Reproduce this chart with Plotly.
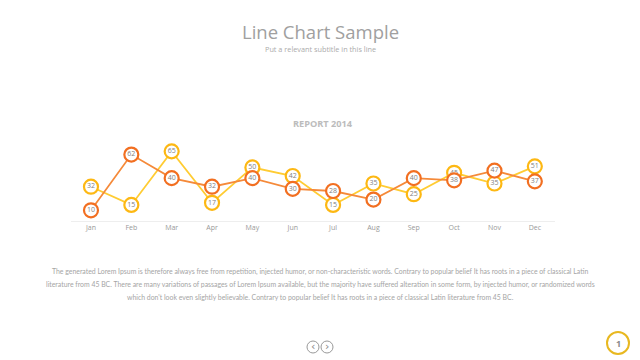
import plotly.graph_objects as go

months = ["Jan", "Feb", "Mar", "Apr", "May", "Jun", "Jul", "Aug", "Sep", "Oct", "Nov", "Dec"]
series_orange = [10, 62, 40, 32, 40, 30, 28, 20, 40, 38, 47, 37]
series_yellow = [32, 15, 65, 17, 50, 42, 15, 35, 25, 45, 35, 51]

title = "Line Chart Sample"
subtitle = "Put a relevant subtitle in this line"
chart_title = "REPORT 2014"
paragraph_lines = [
    "The generated Lorem Ipsum is therefore always free from repetition, injected humor, or non-characteristic words. Contrary to popular belief It has roots in a piece of classical Latin",
    "literature from 45 BC. There are many variations of passages of Lorem Ipsum available, but the majority have suffered alteration in some form, by injected humor, or randomized words",
    "which don't look even slightly believable. Contrary to popular belief It has roots in a piece of classical Latin literature from 45 BC.",
]

fig = go.Figure()

fig.add_trace(go.Scatter(
    x=months, y=series_yellow, mode="lines+markers+text",
    line=dict(color="#FFCC33", width=1.8),
    marker=dict(size=14, color="white", line=dict(color="#FDB813", width=2.2)),
    text=[str(v) for v in series_yellow], textposition="middle center",
    textfont=dict(size=7, color="#7f7f7f", family="Open Sans"),
    cliponaxis=False, showlegend=False, hoverinfo="x+y"))

fig.add_trace(go.Scatter(
    x=months, y=series_orange, mode="lines+markers+text",
    line=dict(color="#F58A3A", width=1.8),
    marker=dict(size=14, color="white", line=dict(color="#F26F21", width=2.2)),
    text=[str(v) for v in series_orange], textposition="middle center",
    textfont=dict(size=7, color="#7f7f7f", family="Open Sans"),
    cliponaxis=False, showlegend=False, hoverinfo="x+y"))


def px_ann(text, x, y, size, color, family="Open Sans"):
    return dict(text=text, x=x / 640, y=1 - y / 360, xref="paper", yref="paper", showarrow=False,
                xanchor="center", yanchor="middle", borderpad=0,
                font=dict(size=size, color=color, family=family))


annotations = [
    px_ann(title, 320, 31, 18.5, "#a0a0a0"),
    px_ann(subtitle, 320, 49, 7.3, "#ababab"),
    px_ann("<b>" + chart_title + "</b>", 323, 123, 9.2, "#bcbcbc"),
    px_ann("<b>1</b>", 618, 343, 9, "#8a8a8a"),
    px_ann("‹", 313, 346, 11, "#888", "DejaVu Sans"),
    px_ann("›", 327, 346, 11, "#888", "DejaVu Sans"),
]
for i, line in enumerate(paragraph_lines):
    annotations.append(px_ann(line, 320, 271 + 13 * i, 6.9, "#a5a5a5", "Lato"))

fig.update_layout(
    width=640, height=360,
    margin=dict(l=0, r=0, t=0, b=0),
    paper_bgcolor="white", plot_bgcolor="white",
    font=dict(family="Open Sans", color="#999"),
    xaxis=dict(domain=[70.8/640, 555/640], range=[-0.5, 11.5], showgrid=False, zeroline=False,
               showline=True, linecolor="#eeeeee", linewidth=1, ticks="",
               tickfont=dict(size=7, color="#999"), fixedrange=True),
    yaxis=dict(domain=[(360-221)/360, (360-146)/360], range=[0, 70], showgrid=False, zeroline=False,
               showticklabels=False, fixedrange=True),
    annotations=annotations,
    shapes=[
        dict(type="circle", xref="paper", yref="paper", x0=(618-11)/640, x1=(618+11)/640,
             y0=1-(343+11)/360, y1=1-(343-11)/360, line=dict(color="#E8B820", width=2), fillcolor="white",
             layer="below"),
        dict(type="circle", xref="paper", yref="paper", x0=(313-6)/640, x1=(313+6)/640,
             y0=1-(347+6)/360, y1=1-(347-6)/360, line=dict(color="#999", width=1)),
        dict(type="circle", xref="paper", yref="paper", x0=(327-6)/640, x1=(327+6)/640,
             y0=1-(347+6)/360, y1=1-(347-6)/360, line=dict(color="#999", width=1)),
    ],
)

fig.write_html("out.html", config={"displayModeBar": False},
               post_script="document.body.style.margin='0';")
